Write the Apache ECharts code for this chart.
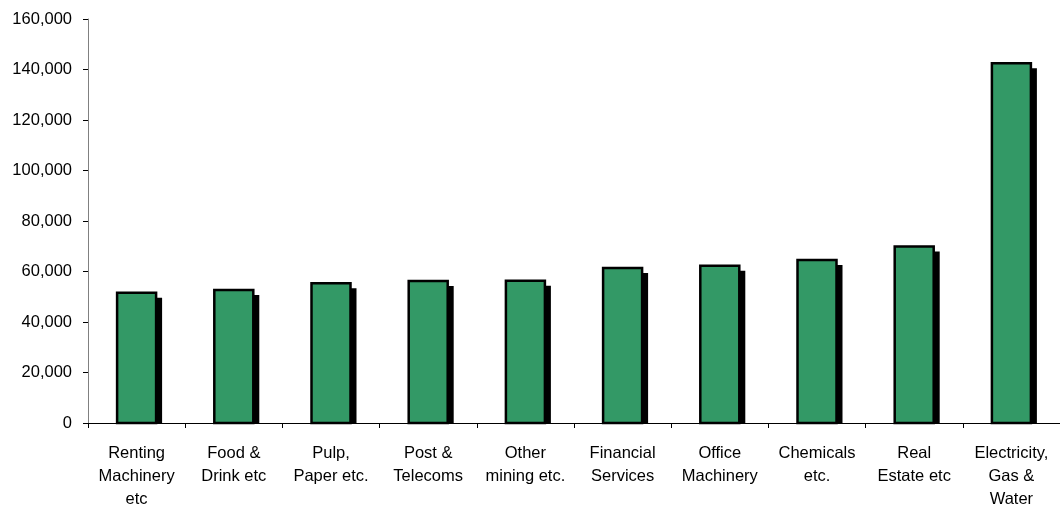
<!DOCTYPE html>
<html>
<head>
<meta charset="utf-8">
<script src="https://cdn.jsdelivr.net/npm/echarts@6/dist/echarts.min.js"></script>
<style>
  html, body { margin: 0; padding: 0; background: #fff; }
  #chart { width: 1060px; height: 511px; }
</style>
</head>
<body>
<div id="chart"></div>
<script>
// Sectors, ordered by value
const categories = [
  'Renting\nMachinery\netc',
  'Food &\nDrink etc',
  'Pulp,\nPaper etc.',
  'Post &\nTelecoms',
  'Other\nmining etc.',
  'Financial\nServices',
  'Office\nMachinery',
  'Chemicals\netc.',
  'Real\nEstate etc',
  'Electricity,\nGas &\nWater'
];
const values = [51600, 52700, 55300, 56200, 56300, 61400, 62300, 64600, 69900, 142500];
const yTicks = { min: 0, max: 160000, interval: 20000 };

const chart = echarts.init(document.getElementById('chart'), null, { renderer: 'canvas' });
const font = 'Arial, "Liberation Sans", sans-serif';

const BAR_W = 39;      // bar width in px
const SHADOW = 6;      // drop-shadow offset in px

// Each bar: a solid black offset shadow, then the green bar with a dark outline
function renderBar(params, api) {
  const top = api.coord([api.value(0), api.value(1)]);
  const base = api.coord([api.value(0), 0]);
  const x = top[0] - BAR_W / 2;
  const h = base[1] - top[1];
  return {
    type: 'group',
    children: [
      {
        type: 'rect',
        shape: { x: x + SHADOW, y: top[1] + SHADOW - 1, width: BAR_W, height: h - SHADOW + 1 },
        style: { fill: '#000' }
      },
      {
        type: 'rect',
        shape: { x: x, y: top[1], width: BAR_W, height: h },
        style: { fill: '#339966', stroke: '#000', lineWidth: 2.5 }
      }
    ]
  };
}

chart.setOption({
  animation: false,
  backgroundColor: '#ffffff',
  grid: { left: 88, top: 19, width: 975, height: 409, containLabel: false },
  xAxis: {
    type: 'category',
    data: categories,
    axisLine: { lineStyle: { color: '#000', width: 1 }, z: 10 },
    axisTick: { show: true, alignWithLabel: false, length: 5, lineStyle: { color: '#000' } },
    axisLabel: {
      interval: 0, margin: 19, color: '#000',
      fontFamily: font, fontSize: 16.5, lineHeight: 23
    },
    splitLine: { show: false }
  },
  yAxis: {
    type: 'value',
    min: yTicks.min, max: yTicks.max, interval: yTicks.interval,
    axisLine: { show: true, lineStyle: { color: '#808080', width: 1 } },
    axisTick: { show: true, length: 5, lineStyle: { color: '#000' } },
    axisLabel: {
      margin: 16, color: '#000', fontFamily: font, fontSize: 16.5,
      formatter: v => v.toLocaleString('en-US')
    },
    splitLine: { show: false }
  },
  series: [{
    type: 'custom',
    renderItem: renderBar,
    encode: { x: 0, y: 1 },
    data: values.map((v, i) => [i, v]),
    z: 2
  }]
});
</script>
</body>
</html>
